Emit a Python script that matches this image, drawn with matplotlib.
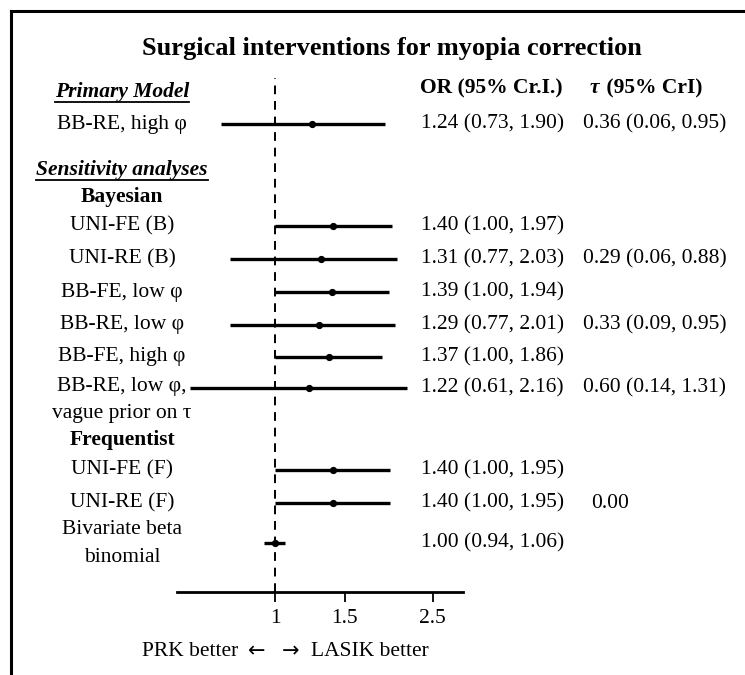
import matplotlib
matplotlib.use("Agg")
import matplotlib.pyplot as plt
from matplotlib.lines import Line2D

# Forest plot data (odds ratios, 95% CrI)
models = ["BB-RE, high φ", "UNI-FE (B)", "UNI-RE (B)", "BB-FE, low φ", "BB-RE, low φ",
          "BB-FE, high φ", "BB-RE, low φ,\nvague prior on τ", "UNI-FE (F)", "UNI-RE (F)",
          "Bivariate beta\nbinomial"]
or_est = [1.24, 1.40, 1.31, 1.39, 1.29, 1.37, 1.22, 1.40, 1.40, 1.00]
or_lo = [0.73, 1.00, 0.77, 1.00, 0.77, 1.00, 0.61, 1.00, 1.00, 0.94]
or_hi = [1.90, 1.97, 2.03, 1.94, 2.01, 1.86, 2.16, 1.95, 1.95, 1.06]
tau_txt = ["0.36 (0.06, 0.95)", "", "0.29 (0.06, 0.88)", "", "0.33 (0.09, 0.95)", "",
           "0.60 (0.14, 1.31)", "", "0.00", ""]
xticks = [1, 1.5, 2.5]
xticklabels = ["1", "1.5", "2.5"]

# layout (pixel rows of the 745x675 canvas)
W, H = 745, 675
row_y = [124, 226, 259, 292, 325, 357, 388, 470, 503, 543]
label_y = [124, 226, 259, 292, 325, 357, 387, 470, 503, 530]
tau_x = [583, 583, 583, 583, 583, 583, 583, 583, 591, 583]
line_gap = 27
SERIF = ["Liberation Serif", "DejaVu Serif"]
FS = 15.5


def fx(px):
    return px / W


def fy(py):
    return 1 - py / H


fig = plt.figure(figsize=(W / 100, H / 100), dpi=100)

# frame (top and left only)
fig.add_artist(Line2D([fx(11), fx(745)], [fy(11), fy(11)], color="black", lw=2.2))
fig.add_artist(Line2D([fx(11), fx(11)], [fy(11), fy(675)], color="black", lw=2.2))

fig.text(fx(392), fy(48), "Surgical interventions for myopia correction", ha="center",
         va="center", fontsize=19, fontweight="bold", family=SERIF)

# column headers
fig.text(fx(420), fy(88), "OR (95% Cr.I.)", ha="left", va="center", fontsize=FS,
         fontweight="bold", family=SERIF)
fig.text(fx(590), fy(88), "τ", ha="left", va="center", fontsize=FS, fontweight="bold",
         fontstyle="italic", family=SERIF)
fig.text(fx(601), fy(88), " (95% CrI)", ha="left", va="center", fontsize=FS,
         fontweight="bold", family=SERIF)

# section headers
for txt, y in [("Primary Model", 92), ("Sensitivity analyses", 170)]:
    t = fig.text(fx(122), fy(y), txt, ha="center", va="center", fontsize=FS,
                 fontweight="bold", fontstyle="italic", family=SERIF)
    fig.canvas.draw()
    bb = t.get_window_extent()
    fig.add_artist(Line2D([bb.x0 / W, bb.x1 / W], [fy(y + 10), fy(y + 10)],
                          color="black", lw=1.3))
for txt, y in [("Bayesian", 197), ("Frequentist", 440)]:
    fig.text(fx(122), fy(y), txt, ha="center", va="center", fontsize=FS,
             fontweight="bold", family=SERIF)

# model labels and estimate text
for i, lab in enumerate(models):
    for j, part in enumerate(lab.split("\n")):
        fig.text(fx(122), fy(label_y[i] + j * line_gap), part, ha="center", va="center",
                 fontsize=FS, family=SERIF)
    fig.text(fx(421), fy(row_y[i]), f"{or_est[i]:.2f} ({or_lo[i]:.2f}, {or_hi[i]:.2f})",
             ha="left", va="center", fontsize=FS, family=SERIF)
    if tau_txt[i]:
        fig.text(fx(tau_x[i]), fy(row_y[i]), tau_txt[i], ha="left", va="center",
                 fontsize=FS, family=SERIF)

# forest axes
ax = fig.add_axes([fx(177), fy(592), (463 - 177) / W, (592 - 70) / H])
ax.set_xscale("log")
ax.set_xlim(0.5657, 2.983)
ax.set_ylim(592, 70)
ax.patch.set_alpha(0)
for s in ["top", "left", "right"]:
    ax.spines[s].set_visible(False)
ax.spines["bottom"].set_linewidth(2)

ax.plot([1, 1], [592, 78], color="black", lw=1.4, ls=(0, (4.5, 3.5)))
ax.hlines(row_y, or_lo, or_hi, color="black", lw=2.4)
ax.plot(or_est, row_y, "o", color="black", ms=4.2)

ax.set_xticks(xticks)
ax.set_xticklabels(xticklabels, fontsize=FS, family=SERIF)
ax.minorticks_off()
ax.tick_params(axis="x", direction="out", length=7, width=1.3, pad=5)
ax.set_yticks([])

# direction caption
fig.text(fx(238), fy(651), "PRK better", ha="right", va="center", fontsize=FS,
         family=SERIF)
fig.text(fx(257), fy(651), "←", ha="center", va="center", fontsize=15,
         family=["DejaVu Sans"])
fig.text(fx(291), fy(651), "→", ha="center", va="center", fontsize=15,
         family=["DejaVu Sans"])
fig.text(fx(311), fy(651), "LASIK better", ha="left", va="center", fontsize=FS,
         family=SERIF)

fig.savefig("out.png", dpi=100)
